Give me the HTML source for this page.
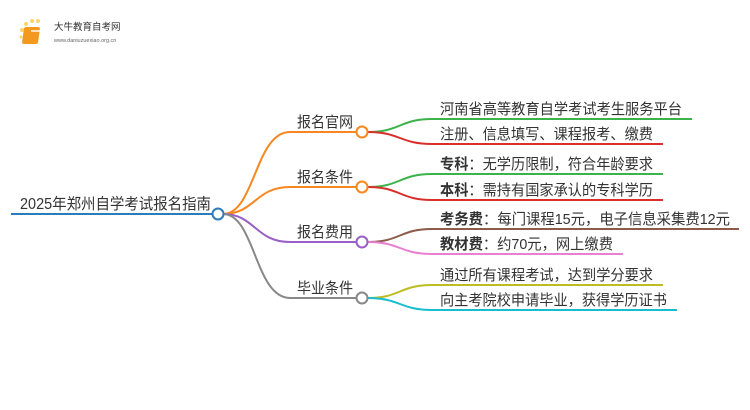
<!DOCTYPE html>
<html><head><meta charset="utf-8"><style>
html,body{margin:0;padding:0;background:#fff;width:750px;height:410px;overflow:hidden}
svg text{font-family:"Liberation Sans","Noto Sans CJK SC",sans-serif;fill:#333}
</style></head><body>
<svg width="750" height="410" viewBox="0 0 750 410" xmlns="http://www.w3.org/2000/svg">
<g>
<circle cx="22" cy="30" r="2" fill="#fbd36b"/><circle cx="26" cy="24" r="2" fill="#fbd36b"/><circle cx="32" cy="21" r="2" fill="#fbd36b"/><circle cx="38" cy="21" r="2" fill="#fbd36b"/><circle cx="21" cy="37" r="1.5" fill="#fbd36b"/>
<rect x="28" y="27" width="16" height="17" rx="2" fill="#f39a1e" transform="skewX(-8)"/>
<rect x="31" y="30" width="10" height="2" fill="#fff" opacity=".7"/>
<text x="54" y="30" font-size="9.5" style="fill:#333">大牛教育自考网</text>
<text x="54" y="42" font-size="5.5" style="fill:#666">www.daniuzuexiao.org.cn</text>
</g>
<g fill="none" stroke-width="2">
<path d="M11 214 H213" stroke="#2b7bbf"/>
<path d="M223 214 C255 214,255 132,290 132 H356" stroke="#f7881f"/>
<path d="M223 214 C255 214,255 187,290 187 H356" stroke="#f7881f"/>
<path d="M223 214 C255 214,255 242,290 242 H356" stroke="#9b5fc8"/>
<path d="M223 214 C255 214,255 298,290 298 H356" stroke="#888"/>
<path d="M368 132 C400 132,400 119,432 119 H692" stroke="#3cb34a"/>
<path d="M368 132 C400 132,400 144,432 144 H663" stroke="#d9302c"/>
<path d="M368 187 C400 187,400 174,432 174 H663" stroke="#3cb34a"/>
<path d="M368 187 C400 187,400 200,432 200 H663" stroke="#d9302c"/>
<path d="M368 242 C400 242,400 229,432 229 H739" stroke="#8c5b4a"/>
<path d="M368 242 C400 242,400 254,432 254 H623" stroke="#e87fd0"/>
<path d="M368 298 C400 298,400 285,432 285 H663" stroke="#bcbd22"/>
<path d="M368 298 C400 298,400 310,432 310 H677" stroke="#17becf"/>
</g>
<g fill="#fff" stroke-width="2">
<circle cx="218" cy="214" r="5.5" stroke="#2b7bbf"/>
<circle cx="362" cy="132" r="5.5" stroke="#f7881f"/>
<circle cx="362" cy="187" r="5.5" stroke="#f7881f"/>
<circle cx="362" cy="242" r="5.5" stroke="#9b5fc8"/>
<circle cx="362" cy="298" r="5.5" stroke="#888"/>
</g>
<text x="20" y="209" font-size="15.5" textLength="191" lengthAdjust="spacingAndGlyphs">2025年郑州自学考试报名指南</text>
<text x="297" y="127" font-size="15" textLength="56" lengthAdjust="spacingAndGlyphs">报名官网</text>
<text x="297" y="182" font-size="15" textLength="56" lengthAdjust="spacingAndGlyphs">报名条件</text>
<text x="297" y="237" font-size="15" textLength="56" lengthAdjust="spacingAndGlyphs">报名费用</text>
<text x="297" y="293" font-size="15" textLength="56" lengthAdjust="spacingAndGlyphs">毕业条件</text>
<g font-size="15">
<text x="440" y="114" textLength="242" lengthAdjust="spacingAndGlyphs">河南省高等教育自学考试考生服务平台</text>
<text x="440" y="139" textLength="213" lengthAdjust="spacingAndGlyphs">注册、信息填写、课程报考、缴费</text>
<text x="440" y="169" textLength="213" lengthAdjust="spacingAndGlyphs"><tspan font-weight="bold">专科</tspan>：无学历限制，符合年龄要求</text>
<text x="440" y="195" textLength="213" lengthAdjust="spacingAndGlyphs"><tspan font-weight="bold">本科</tspan>：需持有国家承认的专科学历</text>
<text x="440" y="224" textLength="290" lengthAdjust="spacingAndGlyphs"><tspan font-weight="bold">考务费</tspan>：每门课程15元，电子信息采集费12元</text>
<text x="440" y="249" textLength="173" lengthAdjust="spacingAndGlyphs"><tspan font-weight="bold">教材费</tspan>：约70元，网上缴费</text>
<text x="440" y="280" textLength="213" lengthAdjust="spacingAndGlyphs">通过所有课程考试，达到学分要求</text>
<text x="440" y="305" textLength="227" lengthAdjust="spacingAndGlyphs">向主考院校申请毕业，获得学历证书</text>
</g>
</svg>
</body></html>
